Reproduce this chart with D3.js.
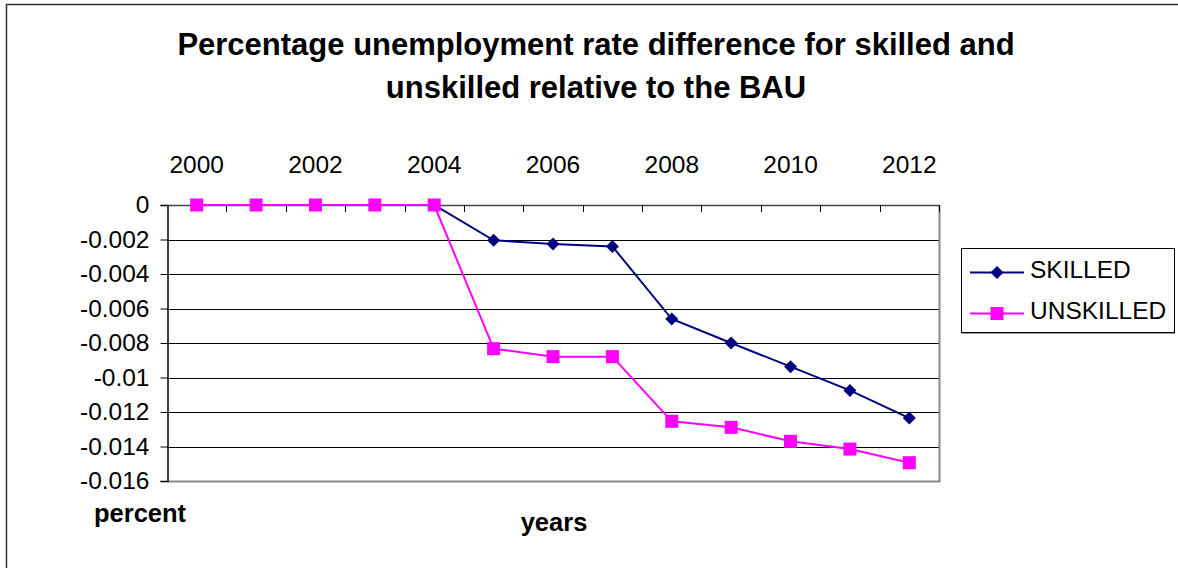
<!DOCTYPE html>
<html><head><meta charset="utf-8">
<script src="https://cdn.jsdelivr.net/npm/d3@7"></script>
<style>body{margin:0;background:#fff;} text{font-family:"Liberation Sans",Arial,sans-serif;}</style>
</head><body>
<svg id="c" width="1178" height="568"></svg>
<script>
const years = [2000,2001,2002,2003,2004,2005,2006,2007,2008,2009,2010,2011,2012];
const skilled = [0,0,0,0,0,-0.00205,-0.00226,-0.0024,-0.00661,-0.0080,-0.00937,-0.01075,-0.01235];
const unskilled = [0,0,0,0,0,-0.00833,-0.00879,-0.00879,-0.01254,-0.01289,-0.0137,-0.01415,-0.01494];
const yTicks = [0,-0.002,-0.004,-0.006,-0.008,-0.01,-0.012,-0.014,-0.016];
const xLabels = [2000,2002,2004,2006,2008,2010,2012];
const titleLines = ["Percentage unemployment rate difference for skilled and","unskilled relative to the BAU"];
const seriesNames = ["SKILLED","UNSKILLED"];

const svg = d3.select("#c");
svg.append("rect").attr("x",6.5).attr("y",4.5).attr("width",1200).attr("height",600)
  .attr("fill","#fff").attr("stroke","#333").attr("stroke-width",1.5);

const L=167,R=939,T=205,B=481;
const x = d3.scaleBand().domain(years).range([L,R]);
const y = d3.scaleLinear().domain([0,-0.016]).range([T,B]);
const FS = "24.5px";

// gridlines
svg.append("g").selectAll("line").data(yTicks.slice(1,-1)).join("line")
  .attr("x1",L).attr("x2",R).attr("y1",d=>Math.round(y(d))+0.5).attr("y2",d=>Math.round(y(d))+0.5)
  .attr("stroke","#000").attr("stroke-width",1);
// plot border right and bottom
svg.append("path").attr("d",`M${L},${B+0.5}H${R+0.5}V${T}`).attr("fill","none").attr("stroke","#888").attr("stroke-width",2);

// y axis
const yAxis = d3.axisLeft(y).tickValues(yTicks).tickSize(7).tickPadding(11).tickFormat(d=>d===0?"0":String(+d.toFixed(3)));
const gy = svg.append("g").attr("transform",`translate(${L+0.5},0)`).call(yAxis);
gy.selectAll("line").attr("stroke","#000");
gy.select(".domain").attr("stroke","#000").attr("stroke-width",1.5);
gy.selectAll("text").attr("font-size",FS).attr("fill","#000").attr("font-family","Liberation Sans, Arial, sans-serif");

// x axis at top (y=0), ticks pointing down
const xt = d3.scaleLinear().domain([0,13]).range([L,R]);
const gx = svg.append("g");
gx.append("line").attr("x1",L).attr("x2",R).attr("y1",T+0.5).attr("y2",T+0.5).attr("stroke","#444").attr("stroke-width",1.5);
gx.selectAll("line.tk").data(d3.range(1,14)).join("line").attr("class","tk")
  .attr("x1",d=>Math.round(xt(d))+0.5).attr("x2",d=>Math.round(xt(d))+0.5).attr("y1",T).attr("y2",T+7).attr("stroke","#000");
gx.selectAll("text").data(xLabels).join("text")
  .attr("x",d=>x(d)+x.bandwidth()/2).attr("y",173).attr("text-anchor","middle")
  .attr("font-size",FS).attr("fill","#000").text(d=>d);

// lines
const line = d3.line().x((d,i)=>x(years[i])+x.bandwidth()/2).y(d=>y(d));
svg.append("path").datum(skilled).attr("d",line).attr("fill","none").attr("stroke","#000080").attr("stroke-width",2);
svg.append("path").datum(unskilled).attr("d",line).attr("fill","none").attr("stroke","#FF00FF").attr("stroke-width",2);

const diamond = (cx,cy,s)=>`M${cx},${cy-s}L${cx+s},${cy}L${cx},${cy+s}L${cx-s},${cy}Z`;
svg.append("g").selectAll("path").data(skilled).join("path")
  .attr("d",(d,i)=>diamond(x(years[i])+x.bandwidth()/2,y(d),6.5)).attr("fill","#000080");
svg.append("g").selectAll("rect").data(unskilled).join("rect")
  .attr("x",(d,i)=>x(years[i])+x.bandwidth()/2-6.5).attr("y",d=>y(d)-6.5)
  .attr("width",13).attr("height",13).attr("fill","#FF00FF");

// title
svg.append("g").selectAll("text").data(titleLines).join("text")
  .attr("x",596).attr("y",(d,i)=>55+i*43).attr("text-anchor","middle")
  .attr("font-size","31px").attr("font-weight","bold").attr("fill","#000").text(d=>d);

// axis titles
svg.append("text").attr("x",94).attr("y",522).attr("font-size","25.5px").attr("font-weight","bold").text("percent");
svg.append("text").attr("x",554).attr("y",531).attr("text-anchor","middle").attr("font-size","25.5px").attr("font-weight","bold").text("years");

// legend
svg.append("rect").attr("x",961.5).attr("y",248.5).attr("width",213).attr("height",84)
  .attr("fill","#fff").attr("stroke","#000").attr("stroke-width",1);
svg.append("line").attr("x1",962).attr("x2",1175).attr("y1",333.5).attr("y2",333.5).attr("stroke","#999").attr("stroke-width",1);
const colors=["#000080","#FF00FF"];
seriesNames.forEach((n,i)=>{
  const cy = 272.5 + i*41;
  svg.append("line").attr("x1",970).attr("x2",1024).attr("y1",cy).attr("y2",cy).attr("stroke",colors[i]).attr("stroke-width",2);
  if(i===0) svg.append("path").attr("d",diamond(997,cy,6.5)).attr("fill",colors[i]);
  else svg.append("rect").attr("x",990.5).attr("y",cy-6.5).attr("width",13).attr("height",13).attr("fill",colors[i]);
  svg.append("text").attr("x",1030).attr("y",cy+5).attr("font-size",FS).attr("fill","#000").text(n);
});
</script>
</body></html>
